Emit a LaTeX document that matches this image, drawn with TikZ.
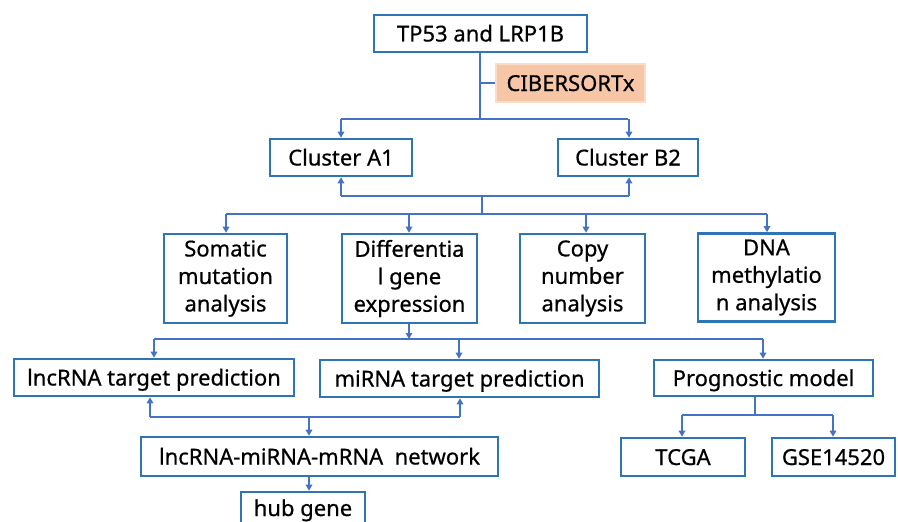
\documentclass[tikz,border=0pt]{standalone}
\usepackage{fontspec}
\setmainfont{Noto Sans}[BoldFont=Noto Sans, BoldFeatures={FakeBold=0.6}]
\usetikzlibrary{arrows.meta}
\definecolor{boxblue}{HTML}{2E75B6}
\definecolor{linkblue}{HTML}{4472C4}
\definecolor{peach}{HTML}{F7C6A6}
\definecolor{peachedge}{HTML}{FBDCC7}
\tikzset{
  box/.style={draw=boxblue, line width=2.6pt, fill=white, inner sep=0pt, align=center,
    font=\fontsize{22}{27.5}\selectfont\bfseries},
  onebox/.style={box, text height=16pt, text depth=0pt},
  conn/.style={draw=linkblue, line width=2pt},
  arr/.style={conn, -{Triangle[length=6pt,width=6.5pt]}},
}
\begin{document}
\begin{tikzpicture}[x=1pt,y=-1pt]
\useasboundingbox (0,0) rectangle (898,522);
\clip (0,0) rectangle (898,522);
\fill[white] (0,0) rectangle (898,522);

% nodes
\node[onebox, minimum width=213pt, minimum height=37pt] (tp) at (480.5,33.5) {TP53 and LRP1B};
\node[draw=peachedge, fill=peach, line width=2pt, inner sep=0pt, minimum width=149pt, minimum height=38pt,
  text height=16pt, text depth=0pt, font=\fontsize{22}{27.5}\selectfont\bfseries] (cib) at (570.5,83) {CIBERSORTx};
\node[onebox, minimum width=142pt, minimum height=37pt] (a1) at (341,157.5) {Cluster A1};
\node[onebox, minimum width=140pt, minimum height=37pt] (b2) at (628,157.5) {Cluster B2};
\node[box, minimum width=123pt, minimum height=89pt] (som) at (225.5,278.5) {Somatic\\mutation\\analysis};
\node[box, minimum width=135pt, minimum height=89pt] (dif) at (409.5,278.5) {Differentia\\l gene\\expression};
\node[box, minimum width=125pt, minimum height=89pt] (cop) at (582.5,278.5) {Copy\\number\\analysis};
\node[box, minimum width=137pt, minimum height=88pt] (dna) at (766.5,277.5) {DNA\\methylatio\\n analysis};
\node[onebox, minimum width=280pt, minimum height=37pt] (lnc) at (154,377.5) {lncRNA target prediction};
\node[onebox, minimum width=279pt, minimum height=37pt] (mir) at (459.5,378.5) {miRNA target prediction};
\node[onebox, minimum width=219pt, minimum height=36pt] (pro) at (763.5,378) {Prognostic model};
\node[onebox, minimum width=357pt, minimum height=39pt] (net) at (319.5,456.5) {lncRNA-miRNA-mRNA\ \ network};
\node[onebox, minimum width=124pt, minimum height=38pt] (tcga) at (683,457) {TCGA};
\node[onebox, minimum width=123pt, minimum height=38pt] (gse) at (833.5,457) {GSE14520};
\node[onebox, minimum width=124pt, minimum height=32pt] (hub) at (303,508) {hub gene};

% junction coordinates
\coordinate (j1) at (480,119);
\coordinate (j2) at (482,196);
\coordinate (j3) at (482,214);
\coordinate (j4) at (409,339);
\coordinate (j5) at (309,417);
\coordinate (j6) at (755,415);

% TP53 -> clusters
\draw[conn] (tp.south -| j1) -- (j1);
\draw[conn] (j1 |- cib.west) -- (cib.west);
\draw[conn] (a1.north |- j1) -- (b2.north |- j1);
\draw[arr] (a1.north |- j1) -- (a1.north);
\draw[arr] ([xshift=1pt]b2.north |- j1) -- ([xshift=1pt]b2.north);

% clusters <- analyses
\draw[conn] (a1.south |- j2) -- ([xshift=1pt]b2.south |- j2);
\draw[arr] (a1.south |- j2) -- (a1.south);
\draw[arr] ([xshift=1pt]b2.south |- j2) -- ([xshift=1pt]b2.south);
\draw[conn] (j2) -- (j3);
\draw[conn] ([xshift=0.5pt]som.north |- j3) -- ([xshift=0.5pt]dna.north |- j3);
\draw[arr] ([xshift=0.5pt]som.north |- j3) -- ([xshift=0.5pt]som.north);
\draw[arr] ([xshift=-0.5pt]dif.north |- j3) -- ([xshift=-0.5pt]dif.north);
\draw[arr] ([xshift=3.5pt]cop.north |- j3) -- ([xshift=3.5pt]cop.north);
\draw[arr] ([xshift=0.5pt]dna.north |- j3) -- ([xshift=0.5pt]dna.north);

% differential expression -> predictions
\draw[arr] (dif.south -| j4) -- (j4);
\draw[conn] (lnc.north |- j4) -- ([xshift=-0.5pt]pro.north |- j4);
\draw[arr] (lnc.north |- j4) -- (lnc.north);
\draw[arr] ([xshift=-0.5pt]mir.north |- j4) -- ([xshift=-0.5pt]mir.north);
\draw[arr] ([xshift=-0.5pt]pro.north |- j4) -- ([xshift=-0.5pt]pro.north);

% predictions <-> network
\draw[conn] ([xshift=-4pt]lnc.south |- j5) -- ([xshift=0.5pt]mir.south |- j5);
\draw[arr] ([xshift=-4pt]lnc.south |- j5) -- ([xshift=-4pt]lnc.south);
\draw[arr] ([xshift=0.5pt]mir.south |- j5) -- ([xshift=0.5pt]mir.south);
\draw[arr] (j5) -- (net.north -| j5);
\draw[arr] (net.south -| j5) -- (hub.north -| j5);

% prognostic model -> datasets
\draw[conn] (pro.south -| j6) -- (j6);
\draw[conn] ([xshift=-1pt]tcga.north |- j6) -- ([xshift=-0.5pt]gse.north |- j6);
\draw[arr] ([xshift=-1pt]tcga.north |- j6) -- ([xshift=-1pt]tcga.north);
\draw[arr] ([xshift=-0.5pt]gse.north |- j6) -- ([xshift=-0.5pt]gse.north);
\end{tikzpicture}
\end{document}
